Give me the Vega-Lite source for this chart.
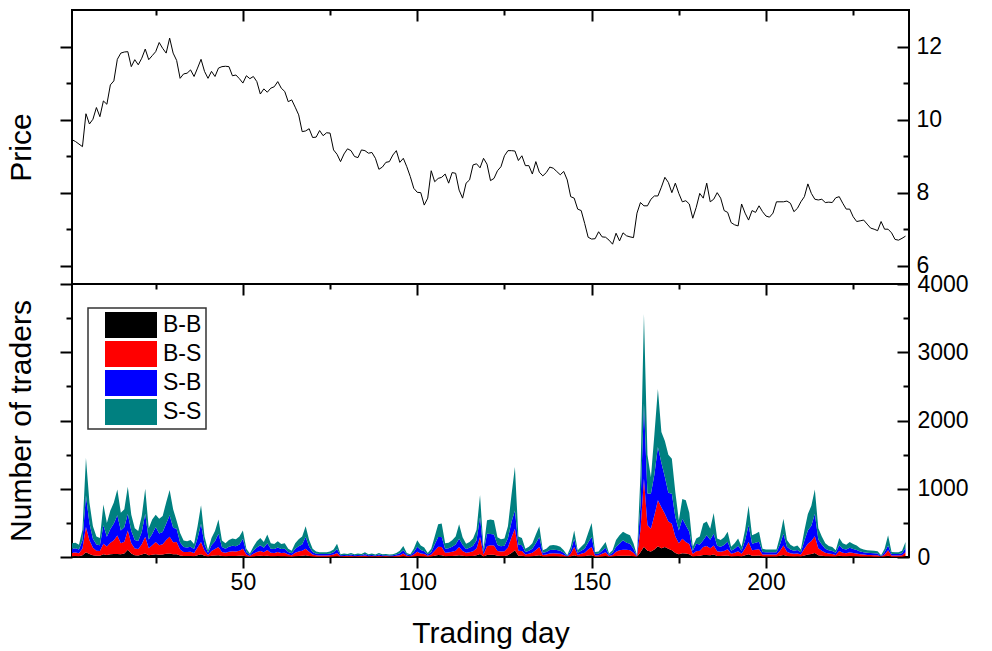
{
"$schema":"https://vega.github.io/schema/vega-lite/v6.json",
"padding":{"left":4,"top":8,"right":5,"bottom":0},
"background":"white",
"spacing":0,
"bounds":"flush",
"config":{
 "view":{"stroke":"black","strokeWidth":2},
 "font":"Liberation Sans",
 "axis":{"domain":false,"grid":false,"tickColor":"black","tickWidth":2,"labelColor":"black","titleColor":"black","labelFont":"Liberation Sans","titleFont":"Liberation Sans","labelFontSize":23,"titleFontSize":30,"titleFontWeight":"normal","labelOverlap":false,"labelFlush":false},
 "legend":{"orient":"none","legendX":16,"legendY":298,"symbolType":"M-1,-0.5H1V0.5H-1Z","symbolSize":2704,"symbolStrokeWidth":0,"symbolOpacity":1,"clipHeight":26,"rowPadding":3,"labelFontSize":23,"labelFont":"Liberation Sans","labelColor":"black","labelOffset":6,"symbolOffset":13,"padding":4,"strokeColor":"#333333","strokeWidth":1.5,"fillColor":"white"}
},
"datasets":{"t":[
{"d":1,"p":9.45,"B-B":12,"B-S":50,"S-B":60,"S-S":78},
{"d":2,"p":9.40,"B-B":13,"B-S":52,"S-B":63,"S-S":82},
{"d":3,"p":9.33,"B-B":11,"B-S":45,"S-B":54,"S-S":70},
{"d":4,"p":9.26,"B-B":24,"B-S":100,"S-B":120,"S-S":156},
{"d":5,"p":10.16,"B-B":70,"B-S":370,"S-B":460,"S-S":550},
{"d":6,"p":9.88,"B-B":45,"B-S":200,"S-B":250,"S-S":305},
{"d":7,"p":10.01,"B-B":27,"B-S":110,"S-B":130,"S-S":183},
{"d":8,"p":10.33,"B-B":18,"B-S":75,"S-B":90,"S-S":117},
{"d":9,"p":10.08,"B-B":17,"B-S":70,"S-B":84,"S-S":109},
{"d":10,"p":10.51,"B-B":40,"B-S":155,"S-B":270,"S-S":305},
{"d":11,"p":10.42,"B-B":30,"B-S":125,"S-B":140,"S-S":205},
{"d":12,"p":10.95,"B-B":40,"B-S":170,"S-B":200,"S-S":270},
{"d":13,"p":11.06,"B-B":45,"B-S":200,"S-B":245,"S-S":310},
{"d":14,"p":11.65,"B-B":45,"B-S":270,"S-B":295,"S-S":380},
{"d":15,"p":11.82,"B-B":40,"B-S":160,"S-B":190,"S-S":260},
{"d":16,"p":11.85,"B-B":50,"B-S":175,"S-B":210,"S-S":265},
{"d":17,"p":11.86,"B-B":105,"B-S":285,"S-B":245,"S-S":395},
{"d":18,"p":11.45,"B-B":50,"B-S":150,"S-B":180,"S-S":240},
{"d":19,"p":11.64,"B-B":25,"B-S":100,"S-B":125,"S-S":170},
{"d":20,"p":11.50,"B-B":23,"B-S":95,"S-B":115,"S-S":147},
{"d":21,"p":11.68,"B-B":36,"B-S":150,"S-B":180,"S-S":234},
{"d":22,"p":11.93,"B-B":50,"B-S":245,"S-B":340,"S-S":365},
{"d":23,"p":11.64,"B-B":25,"B-S":105,"S-B":125,"S-S":165},
{"d":24,"p":11.75,"B-B":33,"B-S":140,"S-B":165,"S-S":212},
{"d":25,"p":11.86,"B-B":40,"B-S":180,"S-B":220,"S-S":180},
{"d":26,"p":12.11,"B-B":34,"B-S":140,"S-B":170,"S-S":216},
{"d":27,"p":11.95,"B-B":36,"B-S":150,"S-B":180,"S-S":234},
{"d":28,"p":11.82,"B-B":48,"B-S":200,"S-B":240,"S-S":312},
{"d":29,"p":12.23,"B-B":50,"B-S":245,"S-B":315,"S-S":370},
{"d":30,"p":11.82,"B-B":42,"B-S":175,"S-B":210,"S-S":273},
{"d":31,"p":11.62,"B-B":40,"B-S":180,"S-B":195,"S-S":115},
{"d":32,"p":11.13,"B-B":21,"B-S":88,"S-B":105,"S-S":136},
{"d":33,"p":11.25,"B-B":14,"B-S":60,"S-B":72,"S-S":94},
{"d":34,"p":11.27,"B-B":14,"B-S":58,"S-B":69,"S-S":89},
{"d":35,"p":11.36,"B-B":15,"B-S":62,"S-B":75,"S-S":98},
{"d":36,"p":11.18,"B-B":11,"B-S":48,"S-B":57,"S-S":74},
{"d":37,"p":11.41,"B-B":27,"B-S":112,"S-B":135,"S-S":176},
{"d":38,"p":11.65,"B-B":40,"B-S":180,"S-B":268,"S-S":272},
{"d":39,"p":11.32,"B-B":18,"B-S":75,"S-B":90,"S-S":117},
{"d":40,"p":11.13,"B-B":6,"B-S":25,"S-B":30,"S-S":39},
{"d":41,"p":11.32,"B-B":17,"B-S":70,"S-B":84,"S-S":109},
{"d":42,"p":11.18,"B-B":23,"B-S":95,"S-B":114,"S-S":148},
{"d":43,"p":11.41,"B-B":25,"B-S":121,"S-B":196,"S-S":208},
{"d":44,"p":11.45,"B-B":14,"B-S":60,"S-B":72,"S-S":94},
{"d":45,"p":11.46,"B-B":12,"B-S":50,"S-B":60,"S-S":78},
{"d":46,"p":11.45,"B-B":15,"B-S":62,"S-B":75,"S-S":98},
{"d":47,"p":11.20,"B-B":16,"B-S":68,"S-B":81,"S-S":105},
{"d":48,"p":11.22,"B-B":16,"B-S":65,"S-B":78,"S-S":101},
{"d":49,"p":11.12,"B-B":18,"B-S":75,"S-B":90,"S-S":117},
{"d":50,"p":11.00,"B-B":20,"B-S":102,"S-B":146,"S-S":122},
{"d":51,"p":11.20,"B-B":7,"B-S":30,"S-B":36,"S-S":47},
{"d":52,"p":11.12,"B-B":3,"B-S":12,"S-B":15,"S-S":20},
{"d":53,"p":11.18,"B-B":9,"B-S":38,"S-B":45,"S-S":58},
{"d":54,"p":11.04,"B-B":14,"B-S":58,"S-B":69,"S-S":89},
{"d":55,"p":10.70,"B-B":17,"B-S":70,"S-B":84,"S-S":109},
{"d":56,"p":10.84,"B-B":13,"B-S":55,"S-B":66,"S-S":86},
{"d":57,"p":10.75,"B-B":20,"B-S":82,"S-B":99,"S-S":129},
{"d":58,"p":10.86,"B-B":12,"B-S":50,"S-B":60,"S-S":78},
{"d":59,"p":10.90,"B-B":11,"B-S":48,"S-B":57,"S-S":74},
{"d":60,"p":11.04,"B-B":14,"B-S":58,"S-B":69,"S-S":89},
{"d":61,"p":10.86,"B-B":11,"B-S":48,"S-B":57,"S-S":74},
{"d":62,"p":10.77,"B-B":12,"B-S":50,"S-B":60,"S-S":78},
{"d":63,"p":10.49,"B-B":7,"B-S":30,"S-B":36,"S-S":47},
{"d":64,"p":10.54,"B-B":5,"B-S":22,"S-B":27,"S-S":36},
{"d":65,"p":10.34,"B-B":12,"B-S":50,"S-B":60,"S-S":78},
{"d":66,"p":10.13,"B-B":16,"B-S":65,"S-B":78,"S-S":101},
{"d":67,"p":9.67,"B-B":18,"B-S":75,"S-B":90,"S-S":117},
{"d":68,"p":9.69,"B-B":25,"B-S":97,"S-B":171,"S-S":157},
{"d":69,"p":9.75,"B-B":15,"B-S":62,"S-B":75,"S-S":98},
{"d":70,"p":9.51,"B-B":7,"B-S":30,"S-B":36,"S-S":47},
{"d":71,"p":9.52,"B-B":5,"B-S":20,"S-B":24,"S-S":31},
{"d":72,"p":9.70,"B-B":4,"B-S":18,"S-B":21,"S-S":27},
{"d":73,"p":9.56,"B-B":4,"B-S":18,"S-B":21,"S-S":27},
{"d":74,"p":9.64,"B-B":4,"B-S":18,"S-B":21,"S-S":27},
{"d":75,"p":9.63,"B-B":5,"B-S":20,"S-B":24,"S-S":31},
{"d":76,"p":9.17,"B-B":7,"B-S":28,"S-B":33,"S-S":42},
{"d":77,"p":9.05,"B-B":12,"B-S":48,"S-B":58,"S-S":77},
{"d":78,"p":8.85,"B-B":2,"B-S":10,"S-B":12,"S-S":16},
{"d":79,"p":9.06,"B-B":3,"B-S":12,"S-B":15,"S-S":20},
{"d":80,"p":9.20,"B-B":3,"B-S":11,"S-B":13,"S-S":18},
{"d":81,"p":9.15,"B-B":4,"B-S":15,"S-B":18,"S-S":23},
{"d":82,"p":8.99,"B-B":2,"B-S":10,"S-B":12,"S-S":16},
{"d":83,"p":8.96,"B-B":3,"B-S":12,"S-B":15,"S-S":20},
{"d":84,"p":9.17,"B-B":3,"B-S":11,"S-B":13,"S-S":18},
{"d":85,"p":9.15,"B-B":4,"B-S":18,"S-B":21,"S-S":27},
{"d":86,"p":9.08,"B-B":2,"B-S":10,"S-B":12,"S-S":16},
{"d":87,"p":9.10,"B-B":3,"B-S":12,"S-B":15,"S-S":20},
{"d":88,"p":8.94,"B-B":2,"B-S":9,"S-B":10,"S-S":14},
{"d":89,"p":8.64,"B-B":4,"B-S":15,"S-B":18,"S-S":23},
{"d":90,"p":8.70,"B-B":2,"B-S":10,"S-B":12,"S-S":16},
{"d":91,"p":8.83,"B-B":3,"B-S":11,"S-B":13,"S-S":18},
{"d":92,"p":8.85,"B-B":2,"B-S":9,"S-B":10,"S-S":14},
{"d":93,"p":9.03,"B-B":2,"B-S":10,"S-B":12,"S-S":16},
{"d":94,"p":9.15,"B-B":4,"B-S":15,"S-B":18,"S-S":23},
{"d":95,"p":8.83,"B-B":5,"B-S":22,"S-B":27,"S-S":36},
{"d":96,"p":8.94,"B-B":10,"B-S":40,"S-B":48,"S-S":62},
{"d":97,"p":8.71,"B-B":4,"B-S":15,"S-B":18,"S-S":23},
{"d":98,"p":8.44,"B-B":2,"B-S":10,"S-B":12,"S-S":16},
{"d":99,"p":8.12,"B-B":7,"B-S":30,"S-B":36,"S-S":47},
{"d":100,"p":8.01,"B-B":15,"B-S":61,"S-B":73,"S-S":96},
{"d":101,"p":8.00,"B-B":10,"B-S":42,"S-B":51,"S-S":67},
{"d":102,"p":7.66,"B-B":8,"B-S":35,"S-B":42,"S-S":55},
{"d":103,"p":7.85,"B-B":4,"B-S":15,"S-B":18,"S-S":23},
{"d":104,"p":8.60,"B-B":7,"B-S":30,"S-B":36,"S-S":47},
{"d":105,"p":8.30,"B-B":18,"B-S":75,"S-B":90,"S-S":117},
{"d":106,"p":8.39,"B-B":29,"B-S":120,"S-B":144,"S-S":187},
{"d":107,"p":8.42,"B-B":25,"B-S":121,"S-B":147,"S-S":197},
{"d":108,"p":8.51,"B-B":12,"B-S":50,"S-B":60,"S-S":78},
{"d":109,"p":8.26,"B-B":13,"B-S":52,"S-B":63,"S-S":82},
{"d":110,"p":8.55,"B-B":15,"B-S":61,"S-B":73,"S-S":96},
{"d":111,"p":8.53,"B-B":18,"B-S":75,"S-B":90,"S-S":117},
{"d":112,"p":8.07,"B-B":25,"B-S":121,"S-B":122,"S-S":212},
{"d":113,"p":7.85,"B-B":17,"B-S":72,"S-B":87,"S-S":114},
{"d":114,"p":8.26,"B-B":12,"B-S":49,"S-B":58,"S-S":76},
{"d":115,"p":8.35,"B-B":13,"B-S":55,"S-B":66,"S-S":86},
{"d":116,"p":8.76,"B-B":16,"B-S":68,"S-B":81,"S-S":105},
{"d":117,"p":8.79,"B-B":24,"B-S":100,"S-B":120,"S-S":156},
{"d":118,"p":8.68,"B-B":45,"B-S":248,"S-B":292,"S-S":325},
{"d":119,"p":8.94,"B-B":7,"B-S":30,"S-B":36,"S-S":47},
{"d":120,"p":8.78,"B-B":30,"B-S":126,"S-B":186,"S-S":198},
{"d":121,"p":8.33,"B-B":33,"B-S":138,"S-B":165,"S-S":214},
{"d":122,"p":8.39,"B-B":32,"B-S":135,"S-B":162,"S-S":211},
{"d":123,"p":8.60,"B-B":17,"B-S":72,"S-B":87,"S-S":114},
{"d":124,"p":8.71,"B-B":16,"B-S":65,"S-B":78,"S-S":101},
{"d":125,"p":9.01,"B-B":16,"B-S":68,"S-B":81,"S-S":105},
{"d":126,"p":9.15,"B-B":27,"B-S":112,"S-B":135,"S-S":176},
{"d":127,"p":9.15,"B-B":60,"B-S":225,"S-B":225,"S-S":390},
{"d":128,"p":9.14,"B-B":98,"B-S":317,"S-B":268,"S-S":637},
{"d":129,"p":8.88,"B-B":18,"B-S":75,"S-B":90,"S-S":117},
{"d":130,"p":9.01,"B-B":17,"B-S":70,"S-B":84,"S-S":109},
{"d":131,"p":8.74,"B-B":7,"B-S":30,"S-B":36,"S-S":47},
{"d":132,"p":8.74,"B-B":9,"B-S":38,"S-B":45,"S-S":58},
{"d":133,"p":8.51,"B-B":12,"B-S":50,"S-B":60,"S-S":78},
{"d":134,"p":8.85,"B-B":20,"B-S":82,"S-B":99,"S-S":129},
{"d":135,"p":8.56,"B-B":25,"B-S":121,"S-B":147,"S-S":157},
{"d":136,"p":8.46,"B-B":6,"B-S":25,"S-B":30,"S-S":39},
{"d":137,"p":8.55,"B-B":7,"B-S":30,"S-B":36,"S-S":47},
{"d":138,"p":8.70,"B-B":10,"B-S":42,"S-B":51,"S-S":67},
{"d":139,"p":8.67,"B-B":10,"B-S":44,"S-B":52,"S-S":69},
{"d":140,"p":8.58,"B-B":10,"B-S":42,"S-B":51,"S-S":67},
{"d":141,"p":8.49,"B-B":9,"B-S":38,"S-B":45,"S-S":58},
{"d":142,"p":8.58,"B-B":6,"B-S":25,"S-B":30,"S-S":39},
{"d":143,"p":8.35,"B-B":2,"B-S":6,"S-B":8,"S-S":9},
{"d":144,"p":7.89,"B-B":9,"B-S":38,"S-B":45,"S-S":58},
{"d":145,"p":7.85,"B-B":25,"B-S":121,"S-B":122,"S-S":122},
{"d":146,"p":7.55,"B-B":6,"B-S":25,"S-B":30,"S-S":39},
{"d":147,"p":7.51,"B-B":9,"B-S":38,"S-B":45,"S-S":58},
{"d":148,"p":7.16,"B-B":12,"B-S":50,"S-B":60,"S-S":78},
{"d":149,"p":6.78,"B-B":21,"B-S":88,"S-B":105,"S-S":136},
{"d":150,"p":6.73,"B-B":25,"B-S":121,"S-B":147,"S-S":207},
{"d":151,"p":6.74,"B-B":4,"B-S":19,"S-B":22,"S-S":30},
{"d":152,"p":6.93,"B-B":5,"B-S":20,"S-B":24,"S-S":31},
{"d":153,"p":6.79,"B-B":9,"B-S":38,"S-B":45,"S-S":58},
{"d":154,"p":6.78,"B-B":13,"B-S":55,"S-B":66,"S-S":86},
{"d":155,"p":6.70,"B-B":3,"B-S":12,"S-B":15,"S-S":20},
{"d":156,"p":6.59,"B-B":6,"B-S":25,"S-B":30,"S-S":39},
{"d":157,"p":6.89,"B-B":15,"B-S":62,"S-B":75,"S-S":98},
{"d":158,"p":6.68,"B-B":19,"B-S":80,"S-B":96,"S-S":125},
{"d":159,"p":6.90,"B-B":20,"B-S":87,"S-B":137,"S-S":126},
{"d":160,"p":6.82,"B-B":20,"B-S":85,"S-B":102,"S-S":133},
{"d":161,"p":6.79,"B-B":19,"B-S":80,"S-B":96,"S-S":125},
{"d":162,"p":6.77,"B-B":12,"B-S":50,"S-B":60,"S-S":78},
{"d":163,"p":7.44,"B-B":2,"B-S":6,"S-B":8,"S-S":9},
{"d":164,"p":7.73,"B-B":70,"B-S":330,"S-B":360,"S-S":440},
{"d":165,"p":7.64,"B-B":150,"B-S":997,"S-B":1098,"S-S":1315},
{"d":166,"p":7.64,"B-B":90,"B-S":380,"S-B":460,"S-S":570},
{"d":167,"p":7.82,"B-B":80,"B-S":335,"S-B":512,"S-S":243},
{"d":168,"p":7.91,"B-B":110,"B-S":500,"S-B":600,"S-S":590},
{"d":169,"p":7.91,"B-B":156,"B-S":674,"S-B":780,"S-S":850},
{"d":170,"p":8.15,"B-B":130,"B-S":600,"S-B":650,"S-S":450},
{"d":171,"p":8.42,"B-B":146,"B-S":488,"S-B":537,"S-S":529},
{"d":172,"p":8.28,"B-B":120,"B-S":400,"S-B":420,"S-S":560},
{"d":173,"p":8.00,"B-B":100,"B-S":388,"S-B":439,"S-S":513},
{"d":174,"p":8.26,"B-B":60,"B-S":240,"S-B":285,"S-S":365},
{"d":175,"p":7.98,"B-B":40,"B-S":160,"S-B":190,"S-S":150},
{"d":176,"p":7.75,"B-B":55,"B-S":213,"S-B":293,"S-S":289},
{"d":177,"p":7.78,"B-B":50,"B-S":170,"S-B":244,"S-S":366},
{"d":178,"p":7.69,"B-B":40,"B-S":150,"S-B":180,"S-S":280},
{"d":179,"p":7.30,"B-B":9,"B-S":38,"S-B":45,"S-S":58},
{"d":180,"p":7.60,"B-B":16,"B-S":68,"S-B":111,"S-S":75},
{"d":181,"p":7.98,"B-B":18,"B-S":75,"S-B":90,"S-S":117},
{"d":182,"p":7.85,"B-B":29,"B-S":117,"S-B":98,"S-S":246},
{"d":183,"p":8.26,"B-B":31,"B-S":130,"S-B":156,"S-S":203},
{"d":184,"p":7.75,"B-B":25,"B-S":104,"S-B":124,"S-S":162},
{"d":185,"p":7.82,"B-B":35,"B-S":135,"S-B":172,"S-S":303},
{"d":186,"p":8.00,"B-B":16,"B-S":68,"S-B":81,"S-S":105},
{"d":187,"p":7.85,"B-B":15,"B-S":62,"S-B":75,"S-S":98},
{"d":188,"p":7.51,"B-B":17,"B-S":72,"S-B":87,"S-S":114},
{"d":189,"p":7.46,"B-B":22,"B-S":92,"S-B":111,"S-S":145},
{"d":190,"p":7.18,"B-B":9,"B-S":38,"S-B":45,"S-S":58},
{"d":191,"p":7.12,"B-B":12,"B-S":50,"S-B":60,"S-S":78},
{"d":192,"p":7.09,"B-B":16,"B-S":68,"S-B":81,"S-S":105},
{"d":193,"p":7.69,"B-B":9,"B-S":38,"S-B":45,"S-S":58},
{"d":194,"p":7.44,"B-B":24,"B-S":100,"S-B":120,"S-S":156},
{"d":195,"p":7.25,"B-B":40,"B-S":180,"S-B":244,"S-S":286},
{"d":196,"p":7.51,"B-B":19,"B-S":80,"S-B":96,"S-S":125},
{"d":197,"p":7.46,"B-B":20,"B-S":85,"S-B":102,"S-S":133},
{"d":198,"p":7.64,"B-B":22,"B-S":92,"S-B":111,"S-S":145},
{"d":199,"p":7.48,"B-B":7,"B-S":30,"S-B":36,"S-S":47},
{"d":200,"p":7.36,"B-B":7,"B-S":28,"S-B":33,"S-S":42},
{"d":201,"p":7.33,"B-B":7,"B-S":28,"S-B":33,"S-S":42},
{"d":202,"p":7.44,"B-B":7,"B-S":28,"S-B":33,"S-S":42},
{"d":203,"p":7.75,"B-B":7,"B-S":28,"S-B":33,"S-S":42},
{"d":204,"p":7.75,"B-B":18,"B-S":75,"S-B":90,"S-S":117},
{"d":205,"p":7.75,"B-B":30,"B-S":140,"S-B":172,"S-S":218},
{"d":206,"p":7.77,"B-B":15,"B-S":62,"S-B":75,"S-S":98},
{"d":207,"p":7.71,"B-B":11,"B-S":45,"S-B":54,"S-S":70},
{"d":208,"p":7.48,"B-B":9,"B-S":38,"S-B":45,"S-S":58},
{"d":209,"p":7.57,"B-B":10,"B-S":42,"S-B":51,"S-S":67},
{"d":210,"p":7.75,"B-B":7,"B-S":28,"S-B":33,"S-S":42},
{"d":211,"p":7.89,"B-B":23,"B-S":98,"S-B":117,"S-S":152},
{"d":212,"p":8.24,"B-B":38,"B-S":157,"S-B":195,"S-S":240},
{"d":213,"p":7.98,"B-B":45,"B-S":188,"S-B":225,"S-S":292},
{"d":214,"p":7.82,"B-B":60,"B-S":243,"S-B":331,"S-S":356},
{"d":215,"p":7.80,"B-B":25,"B-S":105,"S-B":126,"S-S":164},
{"d":216,"p":7.82,"B-B":18,"B-S":75,"S-B":90,"S-S":117},
{"d":217,"p":7.73,"B-B":12,"B-S":50,"S-B":60,"S-S":78},
{"d":218,"p":7.74,"B-B":10,"B-S":40,"S-B":48,"S-S":62},
{"d":219,"p":7.73,"B-B":9,"B-S":36,"S-B":43,"S-S":57},
{"d":220,"p":7.86,"B-B":6,"B-S":25,"S-B":30,"S-S":39},
{"d":221,"p":7.89,"B-B":17,"B-S":70,"S-B":84,"S-S":109},
{"d":222,"p":7.71,"B-B":12,"B-S":50,"S-B":60,"S-S":78},
{"d":223,"p":7.55,"B-B":11,"B-S":45,"S-B":54,"S-S":70},
{"d":224,"p":7.55,"B-B":13,"B-S":55,"S-B":66,"S-S":86},
{"d":225,"p":7.34,"B-B":11,"B-S":48,"S-B":57,"S-S":74},
{"d":226,"p":7.21,"B-B":10,"B-S":42,"S-B":51,"S-S":67},
{"d":227,"p":7.23,"B-B":8,"B-S":32,"S-B":39,"S-S":51},
{"d":228,"p":7.25,"B-B":7,"B-S":28,"S-B":33,"S-S":42},
{"d":229,"p":7.14,"B-B":6,"B-S":25,"S-B":30,"S-S":39},
{"d":230,"p":7.03,"B-B":6,"B-S":24,"S-B":28,"S-S":37},
{"d":231,"p":7.00,"B-B":5,"B-S":22,"S-B":27,"S-S":36},
{"d":232,"p":6.96,"B-B":5,"B-S":21,"S-B":26,"S-S":33},
{"d":233,"p":7.21,"B-B":2,"B-S":6,"S-B":8,"S-S":9},
{"d":234,"p":7.00,"B-B":7,"B-S":30,"S-B":36,"S-S":47},
{"d":235,"p":7.00,"B-B":19,"B-S":79,"S-B":72,"S-S":150},
{"d":236,"p":6.90,"B-B":4,"B-S":19,"S-B":22,"S-S":30},
{"d":237,"p":6.72,"B-B":4,"B-S":18,"S-B":21,"S-S":27},
{"d":238,"p":6.70,"B-B":4,"B-S":18,"S-B":21,"S-S":27},
{"d":239,"p":6.75,"B-B":5,"B-S":22,"S-B":27,"S-S":36},
{"d":240,"p":6.81,"B-B":13,"B-S":55,"S-B":66,"S-S":86}
]},
"vconcat":[
{
 "width":837,"height":274,
 "data":{"name":"t"},
 "layer":[
  {"mark":{"type":"line","color":"black","strokeWidth":1},
   "encoding":{
    "x":{"field":"d","type":"quantitative","scale":{"domain":[1,241],"nice":false,"zero":false},"axis":{"orient":"top","values":[50,100,150,200],"tickSize":-11,"labels":false,"title":null}},
    "y":{"field":"p","type":"quantitative","scale":{"domain":[5.5,13],"nice":false,"zero":false},"axis":{"orient":"right","values":[6,8,10,12],"tickSize":-12,"labelPadding":19,"title":null}}
   }},
  {"mark":{"type":"line","opacity":0},
   "encoding":{
    "x":{"field":"d","type":"quantitative","axis":{"orient":"top","values":[25,75,125,175,225],"tickSize":-5,"labels":false,"title":null}},
    "y":{"field":"p","type":"quantitative","axis":{"orient":"right","values":[7,9,11],"tickSize":-6,"labels":false,"title":null}}
   }},
  {"mark":{"type":"line","opacity":0},
   "encoding":{
    "x":{"field":"d","type":"quantitative","axis":null},
    "y":{"field":"p","type":"quantitative","axis":{"orient":"left","values":[6,8,10,12],"tickSize":12,"labels":false,"title":"Price","titlePadding":23}}
   }},
  {"mark":{"type":"line","opacity":0},
   "encoding":{
    "x":{"field":"d","type":"quantitative","axis":null},
    "y":{"field":"p","type":"quantitative","axis":{"orient":"left","values":[7,9,11],"tickSize":6,"labels":false,"title":null}}
   }}
 ],
 "resolve":{"axis":{"x":"independent","y":"independent"}}
},
{
 "width":837,"height":273,
 "data":{"name":"t"},
 "transform":[{"fold":["B-B","B-S","S-B","S-S"],"as":["key","v"]}],
 "layer":[
  {"mark":{"type":"area","interpolate":"linear"},
   "encoding":{
    "x":{"field":"d","type":"quantitative","scale":{"domain":[1,241],"nice":false,"zero":false},"axis":{"orient":"bottom","values":[50,100,150,200],"tickSize":11,"labelPadding":3,"title":"Trading day","titlePadding":24}},
    "y":{"field":"v","type":"quantitative","stack":"zero","scale":{"domain":[0,4000],"nice":false},"axis":{"orient":"right","values":[0,1000,2000,3000,4000],"format":"d","tickSize":-12,"labelPadding":20,"title":null}},
    "color":{"field":"key","type":"nominal","scale":{"domain":["B-B","B-S","S-B","S-S"],"range":["#000000","#ff0000","#0000ff","#008080"]},"legend":{"title":null}},
    "order":{"field":"key","sort":"ascending"}
   }},
  {"mark":{"type":"point","opacity":0},
   "encoding":{
    "x":{"field":"d","type":"quantitative","axis":{"orient":"bottom","values":[25,75,125,175,225],"tickSize":6,"labels":false,"title":null}},
    "y":{"field":"v","type":"quantitative","axis":{"orient":"right","values":[500,1500,2500,3500],"tickSize":-6,"labels":false,"title":null}}
   }},
  {"mark":{"type":"point","opacity":0},
   "encoding":{
    "x":{"field":"d","type":"quantitative","axis":{"orient":"top","values":[50,100,150,200],"tickSize":-11,"labels":false,"title":null}},
    "y":{"field":"v","type":"quantitative","axis":{"orient":"left","values":[0,1000,2000,3000,4000],"tickSize":12,"labels":false,"title":"Number of traders","titlePadding":23}}
   }},
  {"mark":{"type":"point","opacity":0},
   "encoding":{
    "x":{"field":"d","type":"quantitative","axis":{"orient":"top","values":[25,75,125,175,225],"tickSize":-5,"labels":false,"title":null}},
    "y":{"field":"v","type":"quantitative","axis":{"orient":"left","values":[500,1500,2500,3500],"tickSize":6,"labels":false,"title":null}}
   }}
 ],
 "resolve":{"axis":{"x":"independent","y":"independent"}}
}
]
}
